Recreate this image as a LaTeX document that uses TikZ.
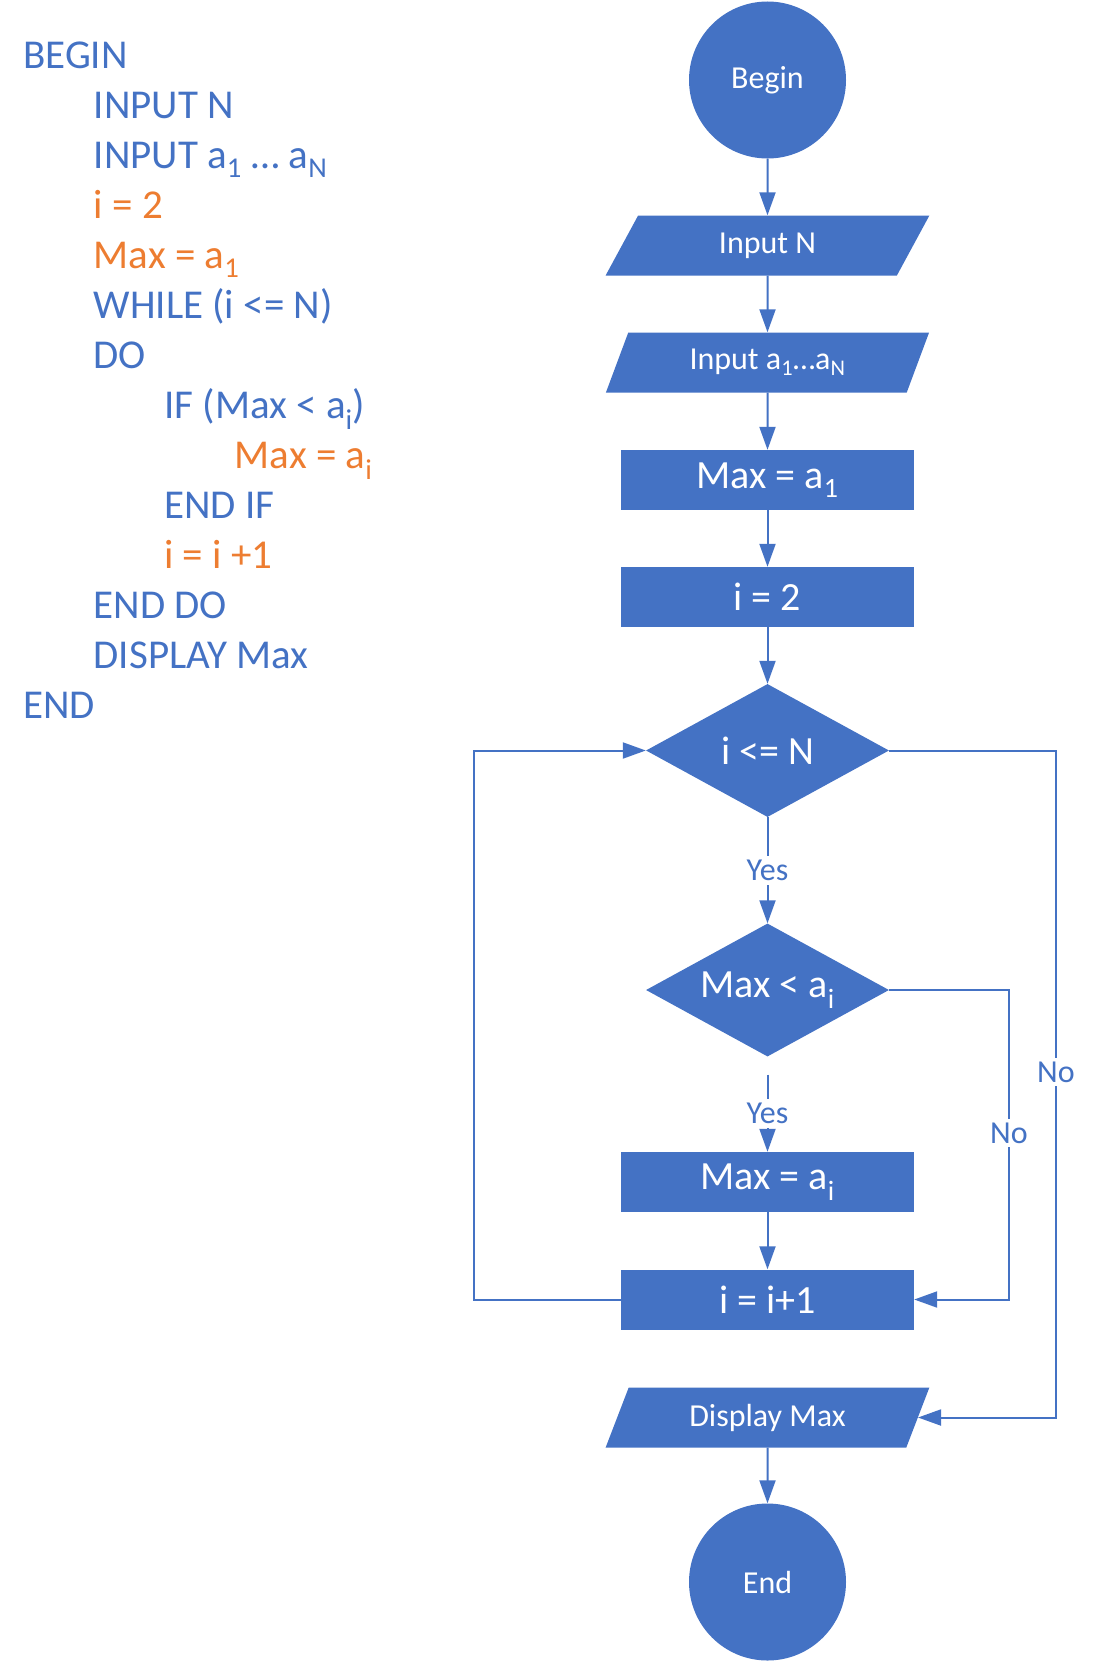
\documentclass[tikz,border=0pt]{standalone}
\usepackage{fontspec}
\setmainfont{Carlito}
\usetikzlibrary{shapes.geometric,arrows.meta}
\definecolor{chartblue}{HTML}{4472C4}
\definecolor{codeorange}{HTML}{ED7D31}

\begin{document}
\begin{tikzpicture}[x=1pt, y=-1pt, every node/.style={inner sep=0pt},
   termnode/.style={circle, fill=chartblue, text=white, minimum size=157pt, font=\fontsize{32}{38}\selectfont},
   ionode/.style={trapezium, trapezium left angle=64.6, trapezium right angle=115.4, trapezium stretches=true, fill=chartblue, text=white, minimum width=324pt, minimum height=60pt, font=\fontsize{32}{38}\selectfont},
   boxnode/.style={rectangle, fill=chartblue, text=white, minimum width=293pt, minimum height=60pt, font=\fontsize{40}{48}\selectfont},
   decnode/.style={diamond, aspect=1.83, fill=chartblue, text=white, minimum width=243pt, minimum height=133pt, font=\fontsize{40}{48}\selectfont},
   flow/.style={draw=chartblue, line width=2pt, -{Triangle[length=23pt,width=16pt]}},
   lbl/.style={fill=white, text=chartblue, inner sep=4pt, font=\fontsize{32}{38}\selectfont}]
   \useasboundingbox (0,0) rectangle (1093,1662);
   \foreach \lvl/\col/\txt [count=\k] in {0/chartblue/BEGIN, 1/chartblue/{INPUT N},
         1/chartblue/{INPUT a\textsubscript{1} … a\textsubscript{N}}, 1/codeorange/{i = 2},
         1/codeorange/{Max = a\textsubscript{1}}, 1/chartblue/{WHILE (i <= N)}, 1/chartblue/DO,
         2/chartblue/{IF (Max < a\textsubscript{i})}, 3/codeorange/{Max = a\textsubscript{i}},
         2/chartblue/{END IF}, 2/codeorange/{i = i +1}, 1/chartblue/{END DO},
         1/chartblue/{DISPLAY Max}, 0/chartblue/END}
      \node[anchor=base west, text=\col, font=\fontsize{41}{49}\selectfont] (line\k) at ({23+70.5*\lvl},{68+50*(\k-1)}) {\txt};
   \node[termnode] (start) at (767.5,80) {Begin};
   \node[ionode] (inN) at (767.5,245.5) {Input N};
   \node[ionode] (inA) at (767.5,362.5) {Input a\textsubscript{1}…a\textsubscript{N}};
   \node[boxnode] (max1) at (767.5,480) {Max = a\textsubscript{1}};
   \node[boxnode] (init) at (767.5,597) {i = 2};
   \node[decnode] (loop) at (767.5,750.5) {i <= N};
   \node[decnode] (cmp) at (767.5,990) {Max < a\textsubscript{i}};
   \node[boxnode] (maxi) at (767.5,1182) {Max = a\textsubscript{i}};
   \node[boxnode] (inc) at (767.5,1299.5) {i = i+1};
   \node[ionode] (disp) at (767.5,1417.5) {Display Max};
   \node[termnode] (stop) at (767.5,1582) {End};
   \coordinate (backx) at (474,750.5);
   \coordinate (skipx) at (1009,1133);
   \coordinate (exitx) at (1056,1072);
   \draw[flow] (start) -- (inN);
   \draw[flow] (inN) -- (inA);
   \draw[flow] (inA) -- (max1);
   \draw[flow] (max1) -- (init);
   \draw[flow] (init) -- (loop);
   \draw[flow] (loop) -- node[lbl]{Yes} (cmp);
   \draw[flow] ([yshift=-18pt]cmp.south) -- node[lbl]{Yes} (maxi);
   \draw[flow] (maxi) -- (inc);
   \draw[flow] (disp) -- (stop);
   \draw[flow] (inc.west) -| (backx) -- (loop.west);
   \draw[flow] (cmp.east) -| (skipx) node[lbl]{No} |- (inc.east);
   \draw[flow] (loop.east) -| (exitx) node[lbl]{No} |- (disp.east);
\end{tikzpicture}
\end{document}
